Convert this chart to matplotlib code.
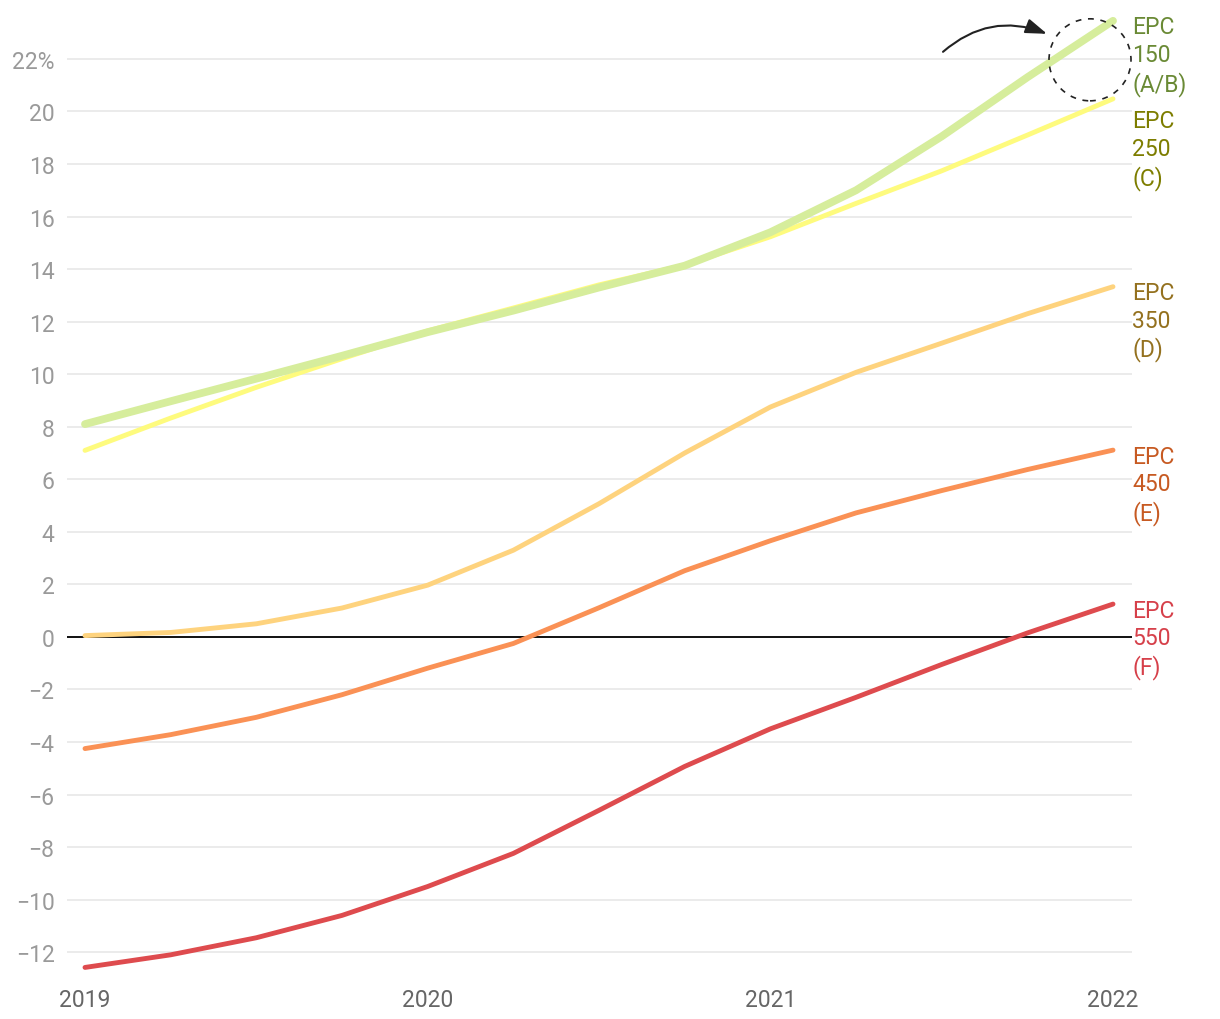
import matplotlib
matplotlib.use("Agg")
import matplotlib.pyplot as plt
from matplotlib.patches import Circle
from matplotlib.transforms import ScaledTranslation

plt.rcParams['font.family'] = ['Roboto', 'DejaVu Sans']

# values, quarterly from 2019 to 2022
years = [2019, 2019.25, 2019.5, 2019.75, 2020, 2020.25, 2020.5, 2020.75,
         2021, 2021.25, 2021.5, 2021.75, 2022]
epc150 = [8.1, 8.97, 9.83, 10.7, 11.6, 12.42, 13.3, 14.13, 15.4, 17.0, 19.05, 21.3, 23.45]
epc250 = [7.1, 8.33, 9.5, 10.59, 11.65, 12.52, 13.4, 14.15, 15.23, 16.5, 17.74, 19.1, 20.48]
epc350 = [0.05, 0.17, 0.5, 1.1, 1.97, 3.3, 5.07, 7.0, 8.75, 10.07, 11.18, 12.3, 13.33]
epc450 = [-4.25, -3.72, -3.06, -2.2, -1.19, -0.25, 1.11, 2.52, 3.66, 4.72, 5.57, 6.37, 7.11]
epc550 = [-12.58, -12.1, -11.45, -10.6, -9.5, -8.24, -6.6, -4.93, -3.5, -2.3, -1.05, 0.15, 1.25]

labels = ["EPC\n550\n(F)", "EPC\n450\n(E)", "EPC\n350\n(D)", "EPC\n250\n(C)", "EPC\n150\n(A/B)"]
yticks = [-12, -10, -8, -6, -4, -2, 0, 2, 4, 6, 8, 10, 12, 14, 16, 18, 20, 22]
xticks = [2019, 2020, 2021, 2022]

series = [epc550, epc450, epc350, epc250, epc150]
line_colors = ["#de4b4e", "#fa9155", "#fed37e", "#fefb7e", "#d6ed9c"]
text_colors = ["#d6404a", "#c75a22", "#94711f", "#7d7d00", "#6a8a35"]
widths = [3.5, 3.5, 3.5, 3.5, 5.6]
label_dy = [4, 4, 4, -7.5, 4]

fig = plt.figure(figsize=(12.2, 10.2), dpi=100)
ax = fig.add_axes([67 / 1220, 45 / 1020, 1065 / 1220, 965 / 1020])

for vals, lc, tc, lw, lab, dy in zip(series, line_colors, text_colors, widths, labels, label_dy):
    ax.plot(years, vals, color=lc, lw=lw, solid_capstyle='round',
            solid_joinstyle='round', zorder=3)
    ax.annotate(lab, xy=(years[-1], vals[-1]), xytext=(14, dy), textcoords='offset points',
                ha='left', va='top', fontsize=16.5, color=tc, linespacing=1.25,
                annotation_clip=False)

ax.axhline(0, color='#111111', lw=1.4, zorder=2)

ax.set_xlim(2019 - 18 / 342.67, 2022 + 19 / 342.67)
ax.set_ylim(-12.83, 23.9)
ax.set_yticks(yticks)
ax.set_yticklabels([f"{v}%" if v == 22 else f"\u2212{-v}" if v < 0 else str(v) for v in yticks])
ax.set_xticks(xticks)
ax.set_xticklabels([str(x) for x in xticks])
ax.grid(axis='y', color='#e6e6e6', lw=1.1, zorder=0)
ax.set_axisbelow(True)
for s in ax.spines.values():
    s.set_visible(False)
ax.tick_params(axis='y', length=0, pad=9, labelsize=16.5, labelcolor='#9a9a9a')
ax.tick_params(axis='x', length=0, pad=10, labelsize=16.5, labelcolor='#666666')

# dashed circle + arrow pointing at the EPC 150 end
anchor = ScaledTranslation(years[-1], epc150[-1], ax.transData)
trans = fig.dpi_scale_trans + anchor
circ = Circle((-0.23, -0.39), 0.41, transform=trans, fill=False, ec='#222222',
              lw=1.2, ls=(0, (3.5, 4)), zorder=5)
fig.add_artist(circ)
ax.annotate('', xy=(-0.66, -0.13), xycoords=trans, xytext=(-1.70, -0.31), textcoords=trans,
            arrowprops=dict(arrowstyle='-|>,head_length=1.3,head_width=0.45',
                            connectionstyle='arc3,rad=-0.3', color='#222222', lw=1.5,
                            shrinkA=0, shrinkB=0), annotation_clip=False)

fig.savefig("out.png", dpi=100)
